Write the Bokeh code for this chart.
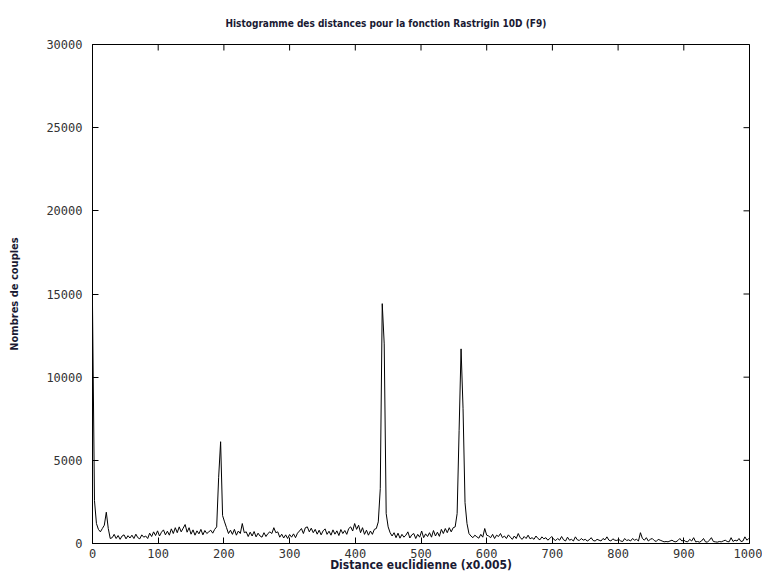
import math
from bokeh.plotting import figure
from bokeh.models import FixedTicker, Range1d
from bokeh.embed import file_html
from bokeh.resources import INLINE

title_text = "Histogramme des distances pour la fonction Rastrigin 10D (F9)"
x_label = "Distance euclidienne (x0.005)"
y_label = "Nombres de couples"

x_ticks = [0, 100, 200, 300, 400, 500, 600, 700, 800, 900, 1000]
y_ticks = [0, 5000, 10000, 15000, 20000, 25000, 30000]

bin_step = 3
# counts per bin (bins 0, 3, 6, ...), ten values per row = 30 bins per row
counts = [
    14300, 2580, 1200, 850, 700, 900, 1100, 1880, 900, 300,
    350, 550, 300, 480, 250, 450, 520, 280, 470, 330,
    500, 300, 560, 350, 280, 520, 380, 450, 300, 620,
    420, 700, 480, 760, 450, 680, 820, 520, 740, 500,
    880, 600, 950, 650, 1000, 700, 920, 1140, 680, 950,
    560, 820, 500, 760, 580, 850, 520, 780, 600, 700,
    800, 620, 850, 1000, 3980, 6120, 1680, 1300, 950, 600,
    800, 550, 850, 500, 750, 600, 1200, 650, 700, 420,
    680, 450, 720, 400, 620, 450, 380, 650, 420, 600,
    700, 600, 950, 650, 700, 380, 560, 330, 520, 300,
    540, 380, 580, 350, 620, 750, 900, 600, 950, 1000,
    700, 920, 650, 850, 560, 800, 520, 760, 880, 550,
    740, 500, 820, 560, 760, 480, 840, 600, 780, 550,
    900, 1000, 750, 1200, 850, 1100, 650, 950, 550, 800,
    500, 750, 550, 850, 900, 1300, 3300, 14420, 12000, 1800,
    1000, 650, 450, 650, 350, 620, 320, 550, 380, 500,
    700, 330, 520, 600, 300, 550, 380, 750, 350, 580,
    420, 650, 380, 780, 450, 680, 430, 850, 600, 900,
    650, 950, 700, 950, 1000, 1800, 6780, 11700, 8100, 2460,
    1200, 600, 450, 350, 500, 400, 320, 550, 380, 900,
    500, 450, 350, 550, 300, 500, 420, 600, 350, 450,
    300, 520, 380, 250, 450, 300, 600, 350, 250, 420,
    300, 500, 280, 350, 250, 450, 300, 220, 400, 280,
    350, 200, 300, 420, 250, 180, 300, 200, 420, 220,
    150, 380, 200, 250, 150, 400, 220, 180, 300, 200,
    250, 150, 220, 350, 180, 150, 250, 200, 150, 300,
    220, 400, 200, 150, 280, 200, 180, 250, 150, 120,
    300, 180, 220, 150, 300, 200, 250, 150, 650, 300,
    200, 350, 150, 250, 300, 180, 120, 250, 200, 150,
    100, 120, 100, 150, 200, 120, 100, 180, 300, 150,
    200, 120, 100, 250, 150, 350, 100, 120, 80, 150,
    300, 100, 80, 200, 350, 120, 100, 80, 120, 100,
    150, 200, 120, 100, 350, 120, 200, 150, 300, 120,
    150, 400, 200, 300,
]
bins = [i * bin_step for i in range(len(counts))]

LABEL_FONT = "DejaVu Sans Condensed"
TICK_FONT = "DejaVu Sans Mono"
LABEL_COLOR = "#1a1a33"

X_MIN, X_MAX = 0, 1000
Y_MIN, Y_MAX = 0, 30000

p = figure(width=762, height=575, output_backend="svg", toolbar_location=None,
           x_range=Range1d(X_MIN, X_MAX), y_range=Range1d(Y_MIN, Y_MAX),
           min_border_left=92, min_border_right=13, min_border_top=44,
           min_border_bottom=32, background_fill_color="white",
           border_fill_color="white")
p.grid.visible = False
p.outline_line_color = "black"
p.outline_line_width = 1

# title
p.title.text = title_text
p.title.text_font = LABEL_FONT
p.title.text_font_size = "10px"
p.title.text_font_style = "bold"
p.title.text_color = LABEL_COLOR
p.title.align = "left"
p.title.offset = 133
p.title.standoff = 31

p.line(bins, counts, line_color="black", line_width=1)

# main axes
for ax, ticks in ((p.xaxis[0], x_ticks), (p.yaxis[0], y_ticks)):
    ax.ticker = FixedTicker(ticks=ticks)
    ax.minor_tick_line_color = None
    ax.major_tick_in = 6
    ax.major_tick_out = 0
    ax.major_tick_line_color = "black"
    ax.axis_line_color = "black"
    ax.major_label_text_font = TICK_FONT
    ax.major_label_text_font_size = "12px"
    ax.major_label_text_color = "#333333"
    ax.axis_label_text_font = LABEL_FONT
    ax.axis_label_text_font_style = "bold"
    ax.axis_label_text_color = LABEL_COLOR

p.xaxis.major_label_standoff = 5
p.xaxis.axis_label = x_label
p.xaxis.axis_label_text_font_size = "12px"
p.xaxis.axis_label_standoff = -3

p.yaxis.major_label_standoff = 10
p.yaxis.axis_label = y_label
p.yaxis.axis_label_text_font_size = "11px"
p.yaxis.axis_label_standoff = 22

# mirrored inward ticks on the top and right edges (clipped to the frame)
p.scatter(x_ticks, [Y_MAX] * len(x_ticks), marker="dash", size=12, angle=math.pi / 2,
          line_color="black", line_width=1)
p.scatter([X_MAX] * len(y_ticks), y_ticks, marker="dash", size=12, angle=0,
          line_color="black", line_width=1)

open("out.html", "w").write(file_html(p, INLINE))
